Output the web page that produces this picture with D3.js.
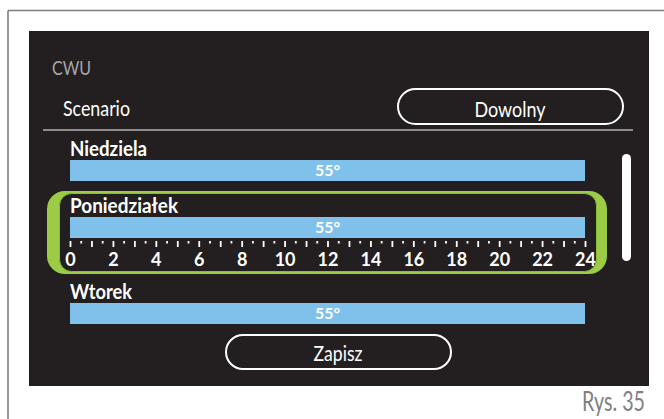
<!DOCTYPE html>
<html>
<head>
<meta charset="utf-8">
<script src="https://cdn.jsdelivr.net/npm/d3@7/dist/d3.min.js"></script>
<style>
  body { margin: 0; background: #fff; }
  svg { display: block; }
  text { font-family: Lato, "Open Sans", sans-serif; }
</style>
</head>
<body>
<script>
// dane ekranu CWU
var days = ["Niedziela", "Poniedziałek", "Wtorek"];
var segFrom = [0, 0, 0];
var segTo = [24, 24, 24];
var temps = [55, 55, 55];
var tickLabels = [0, 2, 4, 6, 8, 10, 12, 14, 16, 18, 20, 22, 24];
var selectedDay = 1;
var title = "CWU";
var scenarioLabel = "Scenario";
var scenarioValue = "Dowolny";
var saveLabel = "Zapisz";
var figLabel = "Rys. 35";

var W = 664, H = 419;
var dark = "#231f20", blue = "#7fc1ea", green = "#9ccb45";

var svg = d3.select("body").append("svg")
  .attr("width", W)
  .attr("height", H);

// ramka strony
svg.append("line").attr("x1", 8).attr("y1", 10.5).attr("x2", W).attr("y2", 10.5)
  .style("stroke", "#7d7d7d").style("stroke-width", 1.6);
svg.append("line").attr("x1", 8).attr("y1", 10.5).attr("x2", 8).attr("y2", H)
  .style("stroke", "#7d7d7d").style("stroke-width", 1.6);

// ekran
svg.append("rect").attr("x", 29).attr("y", 31).attr("width", 620).attr("height", 355)
  .attr("fill", dark);

// tekst ściśnięty do szerokości z oryginału
function squeeze(sel, w) {
  return sel.attr("textLength", w).attr("lengthAdjust", "spacingAndGlyphs");
}

squeeze(svg.append("text").attr("x", 52).attr("y", 75)
  .attr("font-size", 20).attr("font-weight", 400).attr("fill", "#a8a8a8")
  .text(title), 39);

squeeze(svg.append("text").attr("x", 63).attr("y", 116)
  .attr("font-size", 21).attr("font-weight", 400).attr("fill", "#fff")
  .text(scenarioLabel), 67);

// przycisk Dowolny
svg.append("rect").attr("x", 398).attr("y", 89).attr("width", 225).attr("height", 35)
  .attr("rx", 17.5).attr("fill", "none").style("stroke", "#fff").style("stroke-width", 2);
squeeze(svg.append("text").attr("x", 510).attr("y", 117).attr("text-anchor", "middle")
  .attr("font-size", 22).attr("font-weight", 400).attr("fill", "#fff")
  .text(scenarioValue), 71);

svg.append("line").attr("x1", 43).attr("y1", 130).attr("x2", 633).attr("y2", 130)
  .style("stroke", "#8e8e8e").style("stroke-width", 2);

// skala godzin
var x = d3.scaleLinear().domain([0, 24]).range([70, 585]);

// pozycje wierszy
var rowTop = [];
var yy = 140;
days.forEach(function(d, i) {
  rowTop.push(yy);
  yy += (i === selectedDay) ? 86 : 57;
});

// zaznaczenie
var sTop = rowTop[selectedDay] - 6;
svg.append("rect").attr("x", 47).attr("y", sTop).attr("width", 560).attr("height", 83)
  .attr("rx", 18).attr("fill", green);
svg.append("rect").attr("x", 59.5).attr("y", sTop + 2.5).attr("width", 537).attr("height", 78)
  .attr("rx", 12).attr("fill", dark).style("stroke", "#86bd3c").style("stroke-width", 1);

// etykiety dni
days.forEach(function(d, i) {
  var lw = [77, 108, 62][i];
  squeeze(svg.append("text").attr("x", 70).attr("y", rowTop[i] + 16)
    .attr("font-size", 21).attr("font-weight", 700).attr("fill", "#fff")
    .text(d), lw);
});

// paski temperatury
svg.selectAll("rect.seg")
  .data(days)
  .enter()
  .append("rect")
  .attr("class", "seg")
  .attr("x", function(d, i) { return x(segFrom[i]); })
  .attr("y", function(d, i) { return rowTop[i] + 20; })
  .attr("width", function(d, i) { return x(segTo[i]) - x(segFrom[i]); })
  .attr("height", 21)
  .attr("fill", blue);

svg.selectAll("text.temp")
  .data(days)
  .enter()
  .append("text")
  .attr("class", "temp")
  .attr("x", function(d, i) { return (x(segFrom[i]) + x(segTo[i])) / 2; })
  .attr("y", function(d, i) { return rowTop[i] + 36; })
  .attr("text-anchor", "middle")
  .attr("font-size", 16).attr("font-weight", 700).attr("fill", "#fff")
  .text(function(d, i) { return temps[i] + "°"; });

// oś czasu pod wybranym dniem
var axTop = rowTop[selectedDay] + 44;
var major = svg.append("g").attr("transform", "translate(0," + axTop + ")")
  .call(d3.axisBottom(x).tickValues(d3.range(0, 25, 1)).tickSize(6).tickFormat(""));
var minor = svg.append("g").attr("transform", "translate(0," + axTop + ")")
  .call(d3.axisBottom(x).tickValues(d3.range(0.5, 24, 1)).tickSize(2.5).tickFormat(""));
[major, minor].forEach(function(g) {
  g.select(".domain").remove();
  g.selectAll(".tick line").style("stroke", "#fff").style("stroke-width", 1.8);
});

var labels = svg.append("g").attr("transform", "translate(0," + (axTop + 12) + ")")
  .call(d3.axisBottom(x).tickValues(tickLabels).tickSize(0).tickPadding(0));
labels.select(".domain").remove();
labels.selectAll(".tick text")
  .attr("fill", "#fff")
  .style("font-family", "Lato, sans-serif")
  .style("font-size", "18px")
  .style("font-weight", 700);

// pasek przewijania
svg.append("rect").attr("x", 622).attr("y", 154).attr("width", 9).attr("height", 107)
  .attr("rx", 4.5).attr("fill", "#fff");

// przycisk Zapisz
svg.append("rect").attr("x", 226).attr("y", 335).attr("width", 225).attr("height", 34)
  .attr("rx", 17).attr("fill", "none").style("stroke", "#fff").style("stroke-width", 2);
squeeze(svg.append("text").attr("x", 338).attr("y", 361).attr("text-anchor", "middle")
  .attr("font-size", 22).attr("font-weight", 400).attr("fill", "#fff")
  .text(saveLabel), 49);

squeeze(svg.append("text").attr("x", 645).attr("y", 411).attr("text-anchor", "end")
  .attr("font-size", 26).attr("font-weight", 400).attr("fill", "#808080")
  .text(figLabel), 63);
</script>
</body>
</html>
